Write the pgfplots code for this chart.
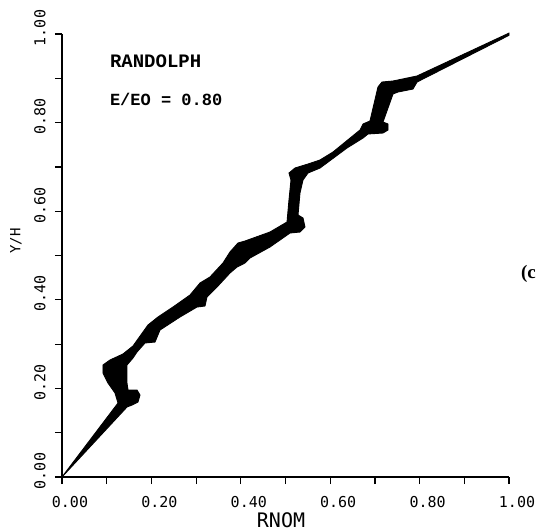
\documentclass[border=0pt]{standalone}
\usepackage{fontspec}
\usepackage{pgfplots}
\pgfplotsset{compat=1.18}
\newfontfamily\plotfont{DejaVu Sans Mono}
\newfontfamily\courierb{Liberation Mono}
\newfontfamily\serifb{Liberation Serif}
\begin{document}
\begin{tikzpicture}
\begin{axis}[
  at={(0,0)}, anchor=south west,
  scale only axis, width=447pt, height=443pt,
  xmin=0, xmax=1, ymin=0, ymax=1,
  axis lines*=left,
  axis line style={line width=1.3pt},
  clip=false,
  xtick={0,0.2,0.4,0.6,0.8,1.0},
  ytick={0,0.2,0.4,0.6,0.8,1.0},
  xticklabels={0.00,0.20,0.40,0.60,0.80,1.00},
  yticklabels={0.00,0.20,0.40,0.60,0.80,1.00},
  minor x tick num=1, minor y tick num=1,
  tick align=outside,
  major tick length=7pt, minor tick length=7pt,
  tick style={line width=1.2pt, black},
  xticklabel style={font=\plotfont\fontsize{15}{16}\selectfont, anchor=north, xshift=8pt, yshift=-9pt},
  yticklabel style={font=\plotfont\fontsize{15}{16}\selectfont, rotate=90, anchor=south, yshift=6pt, xshift=6pt},
  xlabel={RNOM},
  ylabel={Y/H},
  xlabel style={font=\plotfont\fontsize{20}{22}\selectfont, at={(axis description cs:0.49,-0.097)}, anchor=center},
  ylabel style={font=\plotfont\fontsize{14}{15}\selectfont, at={(axis description cs:-0.103,0.533)}, anchor=center},
]
\addplot[fill=black, draw=black, line width=0.9pt] coordinates {
(0,0) (0.1253,0.1670) (0.1186,0.1896) (0.1029,0.2122) (0.0917,0.2348)
(0.0917,0.2528) (0.1074,0.2641) (0.1365,0.2777) (0.1588,0.2957)
(0.1812,0.3273) (0.1924,0.3431) (0.2148,0.3612) (0.2483,0.3837)
(0.2864,0.4108) (0.3087,0.4379) (0.3311,0.4515) (0.3602,0.4831)
(0.3758,0.5079) (0.3937,0.5282) (0.4094,0.5327) (0.4653,0.5530)
(0.5034,0.5756) (0.5078,0.6253) (0.5123,0.6704) (0.5078,0.6862)
(0.5213,0.6975) (0.5503,0.7065) (0.5772,0.7156) (0.6063,0.7336)
(0.6667,0.7833) (0.6734,0.7968) (0.6890,0.8036) (0.7069,0.8804)
(0.7159,0.8916) (0.7405,0.8939) (0.7942,0.9052) (1.0,1.002)
(1.0,0.997) (0.7942,0.8916) (0.7852,0.8758) (0.7517,0.8691)
(0.7405,0.8646) (0.7181,0.8014) (0.7293,0.7968) (0.7293,0.7833)
(0.7181,0.7765) (0.6846,0.7743) (0.6734,0.7652) (0.6376,0.7427)
(0.5772,0.6975) (0.5503,0.6862) (0.5391,0.6704) (0.5324,0.6411)
(0.5280,0.5914) (0.5391,0.5847) (0.5436,0.5643) (0.5324,0.5530)
(0.5101,0.5508) (0.4653,0.5192) (0.4206,0.4944) (0.4094,0.4831)
(0.3915,0.4740) (0.3758,0.4605) (0.3468,0.4289) (0.3244,0.4063)
(0.3199,0.3860) (0.3020,0.3837) (0.2640,0.3612) (0.2192,0.3318)
(0.2081,0.3047) (0.1857,0.3025) (0.1678,0.2822) (0.1588,0.2686)
(0.1454,0.2528) (0.1454,0.2122) (0.1477,0.1964) (0.1678,0.1964)
(0.1745,0.1851) (0.1700,0.1693) (0.1566,0.1625) (0.1454,0.1580)
(0,0)
} -- cycle;
\node[anchor=west, font=\courierb\bfseries\fontsize{19}{20}\selectfont, inner sep=0pt] at (axis cs:0.107,0.939) {RANDOLPH};
\node[anchor=west, font=\courierb\bfseries\fontsize{17}{19}\selectfont, inner sep=0pt] at (axis cs:0.107,0.853) {E/EO = 0.80};
\node[anchor=east, font=\serifb\bfseries\fontsize{19}{20}\selectfont, inner sep=0pt] at (axis cs:1.0605,0.458) {(c};
\end{axis}
\pgfresetboundingbox
\useasboundingbox (-62pt,-54pt) rectangle (475pt,477pt);
\end{tikzpicture}
\end{document}
